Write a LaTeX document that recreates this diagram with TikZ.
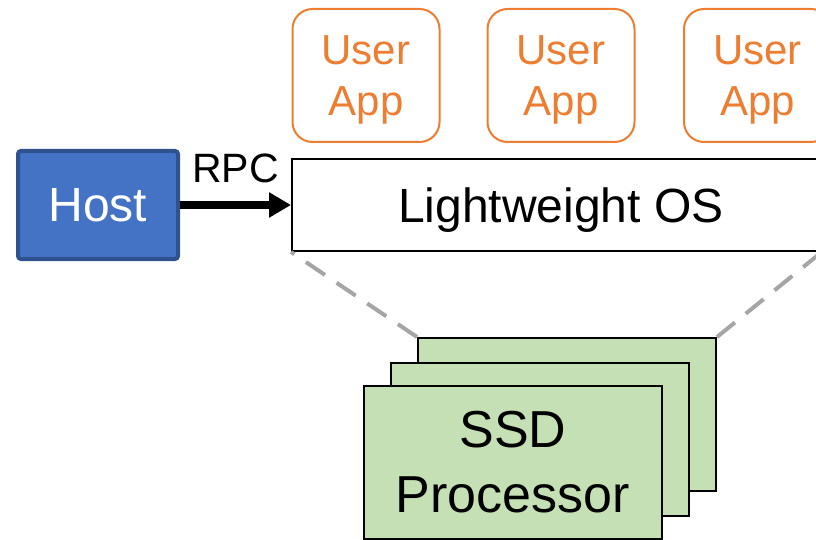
\documentclass[tikz,border=0pt]{standalone}
\usepackage{fontspec}
\setmainfont{Liberation Sans}
\usetikzlibrary{arrows.meta}
\definecolor{hostblue}{HTML}{4472C4}
\definecolor{hostedge}{HTML}{2F528F}
\definecolor{apporange}{HTML}{ED7D31}
\definecolor{procgreen}{HTML}{C5E0B4}
\definecolor{guidegray}{HTML}{A5A5A5}
\begin{document}
\begin{tikzpicture}[x=1pt, y=-1pt,
  hostbox/.style={draw=hostedge, fill=hostblue, line width=4pt, rounded corners=3pt,
    minimum width=160pt, minimum height=108pt, inner sep=0pt, text=white,
    text depth=0pt, font=\fontsize{48}{56}\selectfont},
  osbox/.style={draw=black, fill=white, line width=2pt, minimum width=531pt,
    minimum height=92pt, inner sep=0pt, text depth=0pt,
    font=\fontsize{48}{56}\selectfont},
  appbox/.style={draw=apporange, line width=2pt, rounded corners=20pt, text=apporange,
    minimum width=147pt, minimum height=133pt, inner sep=0pt, align=center,
    text depth=0pt, font=\fontsize{42}{51}\selectfont},
  procbox/.style={draw=black, fill=procgreen, line width=2pt, minimum width=298pt,
    minimum height=153pt, inner sep=0pt, align=center, text depth=0pt,
    font=\fontsize{52}{65}\selectfont},
  guide/.style={draw=guidegray, line width=4pt, dash pattern=on 23pt off 14pt},
  rpcarrow/.style={line width=7pt, -{Triangle[length=22pt, width=24pt]}}
]
\useasboundingbox (0,0) rectangle (816,540);
\clip (0,0) rectangle (816,540);

% user applications on top of the OS
\node[appbox] (app1) at (366,75.5) {User\\App};
\node[appbox] (app2) at (561,75.5) {User\\App};
\node[appbox] (app3) at (757.5,75.5) {User\\App};

% host and the lightweight OS it talks to
\node[hostbox] (host) at (98,205) {Host};
\node[osbox] (os) at (557.5,205) {\hspace*{7pt}Lightweight OS};
\draw[rpcarrow] (host.east) -- (os.west)
  node[midway, above=19pt, inner sep=0pt, font=\fontsize{41}{48}\selectfont] (rpc) {RPC};

% stack of SSD processors
\coordinate (osright) at (823,251);
\node[procbox] (proc3) at (567,414.5) {};
\draw[guide] (proc3.north west) -- (os.south west);
\draw[guide] (proc3.north east) -- (osright);
\node[procbox] (proc2) at (540,439) {};
\node[procbox] (proc1) at (513,462) {SSD\\Processor};
\end{tikzpicture}
\end{document}
